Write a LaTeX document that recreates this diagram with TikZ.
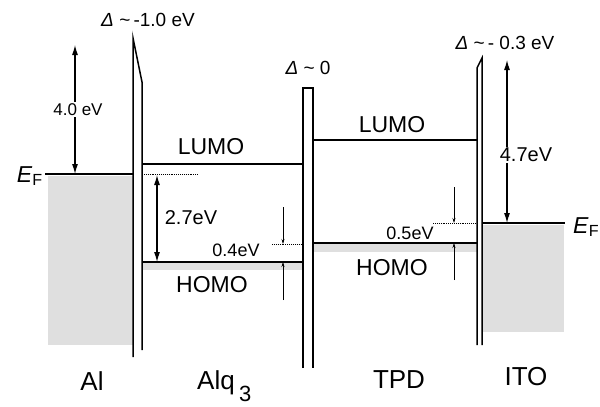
\documentclass[tikz,border=0pt]{standalone}
\usepackage{fontspec}
\setmainfont{Liberation Sans}
\usetikzlibrary{arrows.meta}
\begin{document}
\begin{tikzpicture}[x=1pt, y=-1pt,
    level/.style={line width=1.3pt},
    wall/.style={line width=1.5pt},
    band/.style={fill=gray!25, draw=none},
    guide/.style={densely dotted, line width=0.9pt},
    gap/.style={{Latex[length=10pt,width=6pt]}-{Latex[length=10pt,width=6pt]}, line width=1.1pt},
    tick/.style={-{Stealth[length=5pt,width=3pt]}, line width=0.6pt},
    orbital/.style={inner sep=1pt, font=\fontsize{23}{25}\selectfont},
    evlabel/.style={inner sep=1pt, fill=white, font=\fontsize{20}{22}\selectfont},
    offset/.style={inner sep=1pt, font=\fontsize{18}{20}\selectfont},
    dipole/.style={inner sep=1pt, font=\fontsize{19}{21}\selectfont},
    fermi/.style={inner sep=1pt, font=\fontsize{23}{25}\selectfont},
    layer/.style={inner sep=0pt, font=\fontsize{26}{28}\selectfont}
  ]
    \useasboundingbox (0,0) rectangle (600,407);

    \fill[band] (48,176) rectangle (133,345);
    \fill[band] (483,225) rectangle (564,332);
    \fill[band] (142,262) rectangle (303,270);
    \fill[band] (313,243) rectangle (477,252);

    \draw[wall] (133,357) -- (133,38) -- (142,82) -- (142,350);
    \draw[wall] (303,368) -- (303,88) -- (313,88) -- (313,368);
    \draw[wall] (477,345) -- (477,68) -- (482,58) -- (482,345);

    \draw[level] (45,174) -- (133,174);
    \draw[level] (482,223) -- (565,223);
    \draw[level] (142,164) -- (303,164);
    \draw[level] (142,262) -- (303,262);
    \draw[level] (313,140) -- (477,140);
    \draw[level] (313,243) -- (477,243);

    \draw[guide] (142,174) -- (198,174);
    \draw[guide] (272,244) -- (303,244);
    \draw[guide] (433,223) -- (477,223);

    \coordinate (alvac) at (75,45);
    \coordinate (alfermi) at (75,174);
    \coordinate (alqlumo) at (157,175);
    \coordinate (alqhomo) at (157,262);
    \coordinate (itovac) at (507,60);
    \coordinate (itofermi) at (507,223);
    \coordinate (offA1) at (283,207);
    \coordinate (offA2) at (283,244);
    \coordinate (offA3) at (283,300);
    \coordinate (offA4) at (283,262);
    \coordinate (offB1) at (454,187);
    \coordinate (offB2) at (454,223);
    \coordinate (offB3) at (454,280);
    \coordinate (offB4) at (454,243);

    \draw[gap] (alvac) -- (alfermi)
      node[evlabel, midway, xshift=3pt, font=\fontsize{17}{19}\selectfont] (alwork) {4.0 eV};
    \draw[gap] (alqlumo) -- (alqhomo);
    \draw[gap] (itovac) -- (itofermi)
      node[evlabel, pos=0.58, xshift=19pt] (itowork) {4.7eV};
    \draw[tick] (offA1) -- (offA2);
    \draw[tick] (offA3) -- (offA4);
    \draw[tick] (offB1) -- (offB2);
    \draw[tick] (offB3) -- (offB4);

    \node[evlabel, fill=none] (alqgap) at (191,218) {2.7eV};
    \node[offset] (alqoff) at (236,250) {0.4eV};
    \node[offset] (tpdoff) at (410,233) {0.5eV};

    \node[orbital] (alqL) at (211,147) {LUMO};
    \node[orbital] (alqH) at (212,285) {HOMO};
    \node[orbital] (tpdL) at (392,125) {LUMO};
    \node[orbital] (tpdH) at (392,268) {HOMO};

    \node[dipole] (dalq) at (148,20) {\textit{Δ} \textasciitilde\,-1.0 eV};
    \node[dipole] (dtpd) at (308,68) {\textit{Δ} \textasciitilde\ 0};
    \node[dipole] (dito) at (505,43) {\textit{Δ} \textasciitilde\,- 0.3 eV};

    \node[fermi, anchor=base east] (efleft) at (44,182) {\textit{E}\textsubscript{F}};
    \node[fermi, anchor=base west] (efright) at (572,233) {\textit{E}\textsubscript{F}};

    \node[layer, anchor=base] (al) at (92,390) {Al};
    \node[layer, anchor=base west] (alq) at (197,389) {Alq\,\raisebox{-12pt}{\fontsize{22}{24}\selectfont 3}};
    \node[layer, anchor=base] (tpd) at (399,388) {TPD};
    \node[layer, anchor=base] (ito) at (526,385) {ITO};
  \end{tikzpicture}
\end{document}
